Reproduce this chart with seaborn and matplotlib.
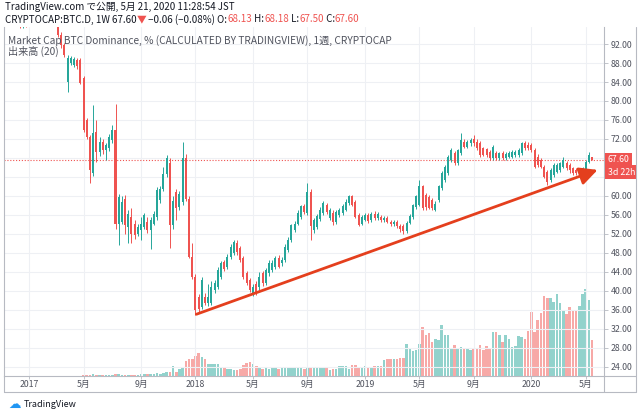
import numpy as np
import pandas as pd
import matplotlib
matplotlib.use("Agg")
import matplotlib.pyplot as plt
import matplotlib.dates as mdates
import matplotlib.transforms as mtransforms
from matplotlib.lines import Line2D
import seaborn as sns

sns.set_theme(style="white")
plt.rcParams['font.family'] = ['Noto Sans CJK JP', 'DejaVu Sans']
plt.rcParams['axes.unicode_minus'] = False

# ---------------- data (weekly candles, BTC dominance %) ----------------
first_week = "2016-11-14"

opens = [
    97.8, 97.5, 97.7, 97.2, 97.6, 96.6, 97.0, 96.5, 97.3, 97.6,
    97.4, 97.8, 97.5, 97.9, 97.6, 97.1, 96.5, 93.9, 91.8, 84.0,
    88.0, 87.6, 88.6, 88.6, 84.8, 76.0, 72.4, 64.8, 73.5, 69.3,
    71.4, 69.6, 70.1, 71.8, 73.9, 54.1, 54.5, 59.4, 53.5, 55.6,
    54.0, 52.1, 52.8, 53.5, 54.5, 52.8, 54.2, 55.6, 59.1, 61.5,
    64.7, 67.0, 53.8, 60.8, 57.7, 58.7, 67.9, 59.4, 47.2, 43.0,
    38.8, 36.7, 38.8, 37.4, 37.4, 40.2, 40.9, 43.0, 46.0, 45.1,
    47.2, 47.9, 50.2, 49.0, 46.9, 43.7, 42.3, 39.5, 41.5, 40.9,
    43.7, 41.6, 43.7, 44.4, 45.1, 46.9, 45.8, 46.5, 48.6, 50.7,
    52.8, 54.2, 55.6, 57.8, 56.4, 60.9, 52.8, 53.5, 55.2, 56.4,
    58.1, 55.3, 56.4, 54.6, 56.0, 56.4, 57.1, 58.5, 59.9, 58.8,
    56.0, 54.2, 55.0, 56.0, 54.9, 56.3, 55.3, 55.6, 54.9, 55.4,
    54.6, 54.0, 54.6, 53.6, 53.6, 52.6, 54.4, 55.6, 57.7, 58.1,
    62.0, 60.2, 59.8, 59.1, 57.0, 59.1, 61.6, 63.4, 64.8, 67.6,
    69.0, 66.9, 69.0, 71.4, 70.4, 71.1, 72.1, 71.4, 71.1, 70.0,
    69.9, 69.3, 67.9, 69.0, 67.9, 69.0, 67.9, 68.3, 68.3, 68.6,
    68.6, 69.0, 71.1, 70.7, 70.7, 69.7, 68.3, 67.6, 66.2, 65.1,
    63.4, 64.4, 65.1, 65.5, 66.2, 66.9, 66.5, 65.8, 65.5, 64.8,
    65.5, 65.4, 67.2, 68.13,
]
highs = [
    98.4, 98.2, 98.1, 98.0, 97.9, 97.4, 97.5, 97.8, 98.2, 98.0,
    98.4, 98.3, 98.5, 98.4, 98.0, 97.5, 96.8, 94.5, 92.2, 89.6,
    89.5, 89.2, 89.0, 89.0, 85.2, 76.5, 72.8, 79.2, 76.0, 72.5,
    72.0, 71.2, 73.0, 75.0, 79.4, 60.5, 60.0, 60.2, 57.0, 57.5,
    55.0, 54.0, 55.6, 56.4, 55.5, 55.5, 56.8, 61.8, 62.0, 66.1,
    68.6, 68.0, 60.0, 61.5, 61.0, 71.4, 68.9, 60.0, 50.0, 43.5,
    39.3, 43.0, 39.5, 41.5, 42.0, 42.3, 45.0, 46.3, 46.6, 47.8,
    49.8, 50.7, 50.8, 49.5, 47.3, 44.2, 42.8, 41.5, 42.0, 43.9,
    44.2, 44.8, 46.6, 46.5, 47.3, 47.5, 47.2, 49.8, 51.4, 54.2,
    54.8, 57.0, 58.2, 58.3, 62.7, 61.5, 55.4, 56.2, 57.6, 59.0,
    58.6, 57.5, 57.0, 57.0, 57.5, 58.3, 59.3, 60.2, 60.3, 59.2,
    56.5, 56.0, 56.4, 56.5, 56.6, 56.8, 56.6, 56.0, 55.8, 55.8,
    55.0, 55.0, 55.0, 54.0, 54.0, 54.8, 56.2, 58.3, 60.2, 63.4,
    62.4, 60.6, 60.2, 59.5, 59.0, 62.4, 65.2, 66.6, 68.7, 70.1,
    69.5, 69.8, 73.2, 71.9, 71.7, 72.2, 72.8, 71.9, 71.5, 70.4,
    70.2, 69.7, 70.8, 69.5, 69.3, 69.4, 69.2, 69.4, 69.6, 69.6,
    70.0, 71.4, 71.5, 71.4, 71.1, 70.0, 68.8, 68.0, 66.6, 65.5,
    65.8, 66.9, 66.9, 67.2, 68.3, 67.3, 67.0, 66.2, 65.8, 65.8,
    66.2, 67.6, 69.3, 68.18,
]
lows = [
    97.1, 96.9, 96.7, 96.8, 95.4, 95.3, 95.5, 96.2, 96.9, 96.8,
    97.0, 96.9, 97.1, 97.0, 96.6, 95.9, 93.5, 91.2, 89.2, 81.9,
    87.6, 87.2, 86.8, 83.5, 73.5, 72.0, 62.7, 64.2, 67.2, 68.5,
    68.8, 67.6, 69.5, 71.2, 53.0, 49.7, 54.0, 52.0, 50.0, 50.0,
    51.0, 51.5, 50.7, 53.0, 52.3, 48.9, 53.8, 55.0, 58.5, 61.0,
    64.0, 49.0, 53.0, 54.9, 57.0, 58.0, 59.0, 47.0, 42.5, 34.9,
    35.5, 36.2, 37.0, 36.8, 37.0, 39.5, 40.5, 42.6, 44.2, 44.6,
    46.8, 47.5, 47.5, 46.0, 42.6, 41.2, 39.8, 39.0, 39.2, 40.3,
    41.0, 41.2, 43.2, 44.0, 44.6, 44.8, 45.3, 46.0, 48.2, 50.3,
    52.4, 53.8, 55.2, 56.2, 56.0, 50.7, 52.3, 53.0, 54.8, 56.0,
    56.3, 54.9, 53.9, 54.2, 55.6, 56.0, 56.8, 58.1, 57.8, 55.3,
    53.6, 53.8, 54.7, 54.4, 54.5, 55.0, 55.0, 54.6, 54.5, 54.3,
    53.6, 53.6, 53.3, 52.5, 52.1, 52.3, 54.0, 55.2, 57.3, 57.8,
    57.0, 57.0, 57.2, 57.0, 56.8, 58.8, 61.2, 63.0, 64.4, 67.2,
    66.6, 66.5, 68.6, 70.0, 70.0, 70.6, 70.6, 69.6, 68.3, 68.4,
    68.2, 67.6, 67.5, 67.6, 67.5, 67.5, 67.5, 67.9, 67.9, 68.2,
    68.2, 68.6, 69.7, 69.6, 69.3, 65.8, 66.2, 65.8, 63.7, 62.3,
    63.0, 64.0, 64.8, 65.1, 65.8, 65.5, 64.8, 64.4, 64.4, 64.4,
    65.0, 65.0, 66.9, 67.50,
]
closes = [
    97.5, 97.7, 97.2, 97.6, 96.6, 97.0, 96.5, 97.3, 97.6, 97.4,
    97.8, 97.5, 97.9, 97.6, 97.1, 96.5, 93.9, 91.8, 89.7, 89.1,
    89.1, 88.8, 87.4, 83.8, 73.9, 72.4, 65.5, 73.3, 69.3, 71.4,
    69.6, 70.8, 72.4, 73.9, 54.2, 59.8, 58.8, 53.8, 56.3, 52.1,
    51.8, 53.5, 54.2, 55.9, 52.8, 54.9, 56.3, 61.2, 61.5, 64.7,
    68.0, 53.8, 59.0, 57.5, 60.5, 67.9, 59.4, 47.2, 43.0, 36.0,
    36.2, 42.3, 37.4, 38.8, 40.9, 41.6, 44.4, 45.8, 44.6, 47.2,
    49.3, 50.3, 48.2, 46.5, 43.0, 41.6, 40.2, 40.9, 39.6, 43.0,
    41.6, 44.4, 45.8, 45.8, 46.9, 45.1, 46.5, 49.3, 50.7, 53.9,
    54.2, 56.4, 57.8, 56.6, 60.9, 53.6, 54.9, 55.8, 57.1, 58.5,
    56.7, 57.1, 54.6, 56.7, 57.1, 57.8, 58.8, 59.9, 58.1, 55.6,
    53.9, 55.6, 56.0, 54.8, 56.3, 55.4, 56.3, 54.9, 55.4, 54.6,
    54.0, 54.6, 53.6, 53.0, 52.6, 54.4, 55.8, 58.0, 59.9, 62.0,
    57.4, 57.7, 57.4, 57.4, 58.4, 62.0, 64.8, 66.2, 68.3, 69.7,
    66.9, 69.6, 71.8, 70.4, 71.4, 71.8, 71.1, 70.0, 68.6, 68.6,
    68.6, 67.9, 70.4, 67.9, 69.0, 67.9, 68.9, 69.0, 69.3, 69.3,
    69.7, 71.1, 70.0, 70.0, 69.6, 66.2, 66.5, 66.2, 64.1, 63.0,
    65.5, 66.5, 66.5, 66.9, 67.6, 65.8, 65.5, 64.8, 64.8, 65.5,
    65.8, 67.2, 68.6, 67.60,
]
volumes = [
    0.3, 0.3, 0.3, 0.3, 0.3, 0.3, 0.3, 0.3, 0.3, 0.3,
    0.3, 0.3, 0.3, 0.3, 0.3, 0.3, 0.3, 0.3, 0.3, 0.3,
    0.3, 0.3, 0.3, 0.3, 1.0, 1.2, 1.0, 1.5, 1.0, 0.8,
    0.8, 1.0, 0.8, 1.0, 2.0, 1.5, 1.2, 1.0, 1.2, 1.0,
    1.0, 1.2, 1.5, 1.8, 1.5, 2.0, 1.8, 2.5, 2.2, 3.0,
    4.0, 3.5, 10, 4, 7, 8, 15, 17, 17, 20,
    23, 19, 17, 12, 12, 12, 12, 9, 8, 7,
    7, 6, 6, 7, 11, 13, 14, 12, 10, 8,
    7, 7.5, 7, 8, 7.5, 7, 8, 8.3, 8.3, 7.7,
    7.7, 7.7, 7.5, 7, 8, 7.7, 7.7, 7.5, 7.7, 7.7,
    7.5, 6, 7.3, 7.3, 10, 10, 9.5, 7, 11, 11,
    9, 9, 9.5, 9, 9, 9.5, 10, 10, 16, 17,
    17, 17, 17, 18, 18, 32, 27, 25, 26, 32,
    49, 41, 43, 34, 37, 36, 51, 41, 41, 27,
    31, 27, 29, 27, 27, 26, 28, 28, 31, 26,
    30, 27, 44, 44, 41, 34, 41, 37, 29, 30,
    40, 39, 37, 45, 64, 44, 56, 63, 80, 78,
    78, 74, 82, 73, 66, 62, 69, 65, 65, 70,
    82, 87, 76, 36,
]

last_price = 67.60
countdown = "3d 22h"
trend_start = ("2018-01-03", 35.1)
trend_end = ("2020-05-30", 65.5)

price_ticks = list(range(24, 93, 4))
hidden_price_labels = [64, 68]   # covered by the last-price tags on the axis
time_tick_dates = ['2017-01-02', '2017-05-01', '2017-09-04', '2018-01-01', '2018-05-07',
                   '2018-09-03', '2019-01-07', '2019-05-06', '2019-09-02', '2020-01-06',
                   '2020-05-04']
time_tick_labels = ['2017', '5月', '9月', '2018', '5月', '9月', '2019', '5月', '9月', '2020', '5月']

header1 = "TradingView.com で公開, 5月 21, 2020 11:28:54 JST"
legend_title = "Market Cap BTC Dominance, % (CALCULATED BY TRADINGVIEW), 1週, CRYPTOCAP"
legend_vol = "出来高 (20)"

n = len(closes)
assert len(opens) == n and len(highs) == n and len(lows) == n and len(volumes) == n

# ---------------- styling ----------------
UP, DOWN = '#26a69a', '#ef5350'
VOL_UP, VOL_DOWN = '#92d2cc', '#f7a9a7'
TXT, TXT2 = '#131722', '#50535e'
GRID = '#eef0f4'
BORDER = '#b7bac2'

weeks = pd.date_range(first_week, periods=n, freq="7D")
xs = mdates.date2num(weeks)
o, h, l, c = (np.asarray(a, float) for a in (opens, highs, lows, closes))
is_up = c >= o
cols = np.where(is_up, UP, DOWN)

fig = plt.figure(figsize=(6.4, 4.15), dpi=100)
fig.patch.set_facecolor('white')
ax = fig.add_axes([4 / 640, 1 - 376 / 415, 600 / 640, 349 / 415])
ax_vol = ax.twinx()
ax.set_zorder(ax_vol.get_zorder() + 1)
ax.patch.set_visible(False)
ax_vol.set_facecolor('white')

# volume (seaborn)
vol_df = pd.DataFrame({'t': xs, 'volume': volumes,
                       'dir': np.where(is_up, 'up', 'down')})
sns.barplot(data=vol_df, x='t', y='volume', hue='dir',
            palette={'up': VOL_UP, 'down': VOL_DOWN}, native_scale=True,
            dodge=False, width=0.8, errorbar=None, legend=False,
            saturation=1, linewidth=0, ax=ax_vol)
ax_vol.set_ylim(0, max(volumes) * 4.0)
ax_vol.set_yticks([])
ax_vol.set_xlabel('')
ax_vol.set_ylabel('')
for s in ax_vol.spines.values():
    s.set_visible(False)
ax_vol.tick_params(axis='x', bottom=False, labelbottom=False)

# candles
ax.vlines(xs, l, h, colors=cols, lw=0.7, zorder=3)
body_h = np.maximum(np.abs(c - o), 0.15)
ax.bar(xs, body_h, bottom=np.minimum(o, c), width=4.4, color=cols,
       linewidth=0, zorder=4)

# last price line
ax.axhline(last_price, color=DOWN, lw=0.8, ls=(0, (1, 1.6)), zorder=2)

# trend line with arrow
ax.annotate('', xy=(mdates.date2num(pd.Timestamp(trend_end[0])), trend_end[1]),
            xytext=(mdates.date2num(pd.Timestamp(trend_start[0])), trend_start[1]),
            arrowprops=dict(arrowstyle='-|>,head_length=0.9,head_width=0.45',
                            color='#e43f1d', lw=2.0, shrinkA=0, shrinkB=0,
                            mutation_scale=12),
            zorder=6)

# axes limits & ticks
ax.set_xlim(mdates.date2num(pd.Timestamp('2016-11-08')),
            mdates.date2num(pd.Timestamp('2020-06-13')))
ax.set_ylim(22.1, 95.58)
ax.yaxis.tick_right()
ax.set_yticks(price_ticks)
ax.set_yticklabels(['' if v in hidden_price_labels else f'{v:.2f}' for v in price_ticks])
ax.set_xticks(mdates.date2num(pd.to_datetime(time_tick_dates)))
ax.set_xticklabels(time_tick_labels)
ax.tick_params(axis='y', which='both', right=True, left=False, length=3, width=0.6,
               color=BORDER, labelsize=6.3, labelcolor=TXT2, pad=2)
ax.tick_params(axis='x', which='both', bottom=True, length=2.5, width=0.6,
               color=BORDER, labelsize=6.3, labelcolor=TXT2, pad=0.5)
ax.grid(True, color=GRID, lw=0.8)
ax.set_axisbelow(True)
ax.spines['top'].set_visible(False)
for side in ('left', 'bottom', 'right'):
    ax.spines[side].set_color(BORDER)
    ax.spines[side].set_linewidth(0.8)

# price tags on the axis
trans = mtransforms.blended_transform_factory(ax.transAxes, ax.transData)
ax.text(1.006, last_price, f'{last_price:.2f}', transform=trans, fontsize=6.3,
        color='white', va='center', ha='left', clip_on=False, zorder=10,
        bbox=dict(boxstyle='square,pad=0.28', fc=DOWN, ec='none'))
ax.text(1.006, last_price - 2.6, countdown, transform=trans, fontsize=6.3,
        color='white', va='center', ha='left', clip_on=False, zorder=10,
        bbox=dict(boxstyle='square,pad=0.28', fc=DOWN, ec='none'))

# outer frame lines (time axis box / price axis box)
def fline(x0, y0, x1, y1):
    fig.add_artist(Line2D([x0 / 640, x1 / 640], [1 - y0 / 415, 1 - y1 / 415],
                          transform=fig.transFigure, color=BORDER, lw=0.8))

fline(4, 392, 636, 392)
fline(636, 27, 636, 392)
fline(4, 376, 4, 392)
fline(604, 376, 604, 392)
fline(604, 376, 636, 376)

# header texts
fig.text(5 / 640, 1 - 7 / 415, header1, fontsize=7, color=TXT, va='center')

renderer = fig.canvas.get_renderer()
runs = [("CRYPTOCAP:BTC.D, 1W 67.60", TXT), ("▼", DOWN), (" −0.06 (−0.08%) O:", TXT),
        ("68.13", DOWN), (" H:", TXT), ("68.18", DOWN), (" L:", TXT), ("67.50", DOWN),
        (" C:", TXT), ("67.60", DOWN)]
xpos = 5 / 640
for s, col in runs:
    t = fig.text(xpos, 1 - 19.5 / 415, s, fontsize=7, color=col, va='center',
                 family=['Noto Sans CJK JP', 'DejaVu Sans'])
    bb = t.get_window_extent(renderer=renderer)
    xpos += bb.width / fig.bbox.width

fig.text(8 / 640, 1 - 41 / 415, legend_title, fontsize=7.3, color=TXT2, va='center')
fig.text(8 / 640, 1 - 51.5 / 415, legend_vol, fontsize=7.3, color=TXT2, va='center')

# footer logo
fig.text(8 / 640, 1 - 404 / 415, '☁', fontsize=9, color='#2196f3', va='center',
         family=['DejaVu Sans'])
fig.text(24 / 640, 1 - 404 / 415, 'TradingView', fontsize=6.5, color=TXT, va='center')

fig.savefig('out.png', dpi=100, facecolor='white')
